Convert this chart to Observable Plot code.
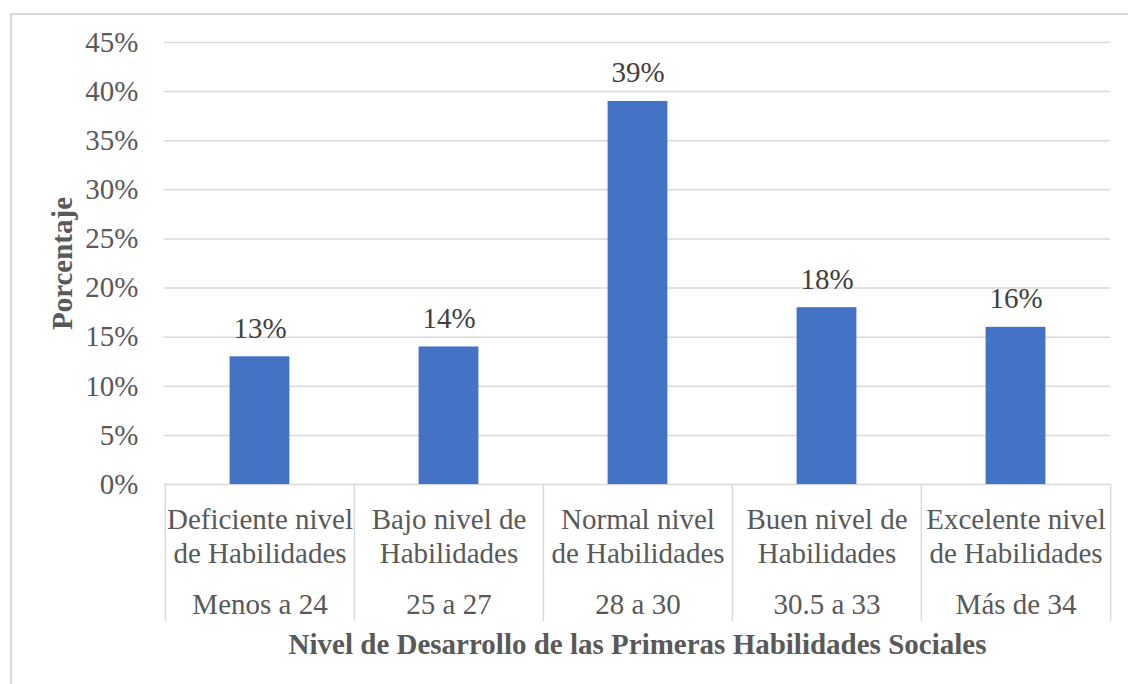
<!DOCTYPE html>
<html><head><meta charset="utf-8">
<script src="https://cdn.jsdelivr.net/npm/d3@7"></script>
<script src="https://cdn.jsdelivr.net/npm/@observablehq/plot@0.6"></script>
<style>
body{margin:0;background:#fff;}
#frame{position:absolute;left:10px;top:13px;width:1200px;height:800px;border:2px solid #d9d9d9;box-sizing:border-box}
#chart{position:absolute;left:0;top:0}
</style></head><body>
<div id="frame"></div><div id="chart"></div>
<script>
const categories = ["Deficiente nivel\nde Habilidades", "Bajo nivel de\nHabilidades", "Normal nivel\nde Habilidades", "Buen nivel de\nHabilidades", "Excelente nivel\nde Habilidades"];
const ranges = ["Menos a 24", "25 a 27", "28 a 30", "30.5 a 33", "Más de 34"];
const values = [0.13, 0.14, 0.39, 0.18, 0.16];
const yTicks = [0, 0.05, 0.10, 0.15, 0.20, 0.25, 0.30, 0.35, 0.40, 0.45];
const yTitle = "Porcentaje";
const xTitle = "Nivel de Desarrollo de las Primeras Habilidades Sociales";

const data = categories.map((c, i) => ({category: c, range: ranges[i], value: values[i]}));
const font = "'Liberation Serif', 'Times New Roman', serif";
const W = 1128, H = 684;
const mL = 164, mR = 18, mT = 42, mB = 200;
const band = (W - mL - mR) / categories.length;

const chart = Plot.plot({
  width: W, height: H,
  marginLeft: mL, marginRight: mR, marginTop: mT, marginBottom: mB,
  style: {fontFamily: font, fontSize: "29px", color: "#595959", background: "transparent"},
  x: {domain: categories, padding: 0, axis: null},
  y: {domain: [0, 0.45], axis: null},
  marks: [
    Plot.gridY(yTicks, {stroke: "#d9d9d9", strokeOpacity: 1, strokeWidth: 1.5}),
    Plot.axisY(yTicks, {tickFormat: d3.format(".0%"), tickSize: 0, tickPadding: 26, fontSize: 29, fill: "#595959", label: null}),
    Plot.barY(data, {x: "category", y: "value", fill: "#4472c4", insetLeft: (band - 60) / 2, insetRight: (band - 60) / 2}),
    Plot.text(data, {x: "category", y: "value", text: d => d3.format(".0%")(d.value), lineAnchor: "bottom", dy: -19, fill: "#404040", fontSize: 29}),
    Plot.ruleX(data, {x: "category", y1: 0, y2: 0, dx: -band / 2, insetBottom: -137, stroke: "#d9d9d9", strokeWidth: 1.5}),
    Plot.ruleX(data.slice(-1), {x: "category", y1: 0, y2: 0, dx: band / 2, insetBottom: -137, stroke: "#d9d9d9", strokeWidth: 1.5}),
    Plot.text(data, {x: "category", y: 0, text: "category", lineAnchor: "bottom", lineHeight: 34 / 29, dy: 78, fill: "#595959", fontSize: 29}),
    Plot.text(data, {x: "category", y: 0, text: "range", lineAnchor: "bottom", dy: 129, fill: "#595959", fontSize: 29}),
    Plot.text([xTitle], {frameAnchor: "bottom", lineAnchor: "bottom", dy: 169, fontWeight: "bold", fill: "#595959", fontSize: 29}),
    Plot.text([yTitle], {frameAnchor: "left", textAnchor: "middle", rotate: -90, dx: -102, fontWeight: "bold", fill: "#595959", fontSize: 29})
  ]
});
document.getElementById("chart").appendChild(chart);
</script>
</body></html>
